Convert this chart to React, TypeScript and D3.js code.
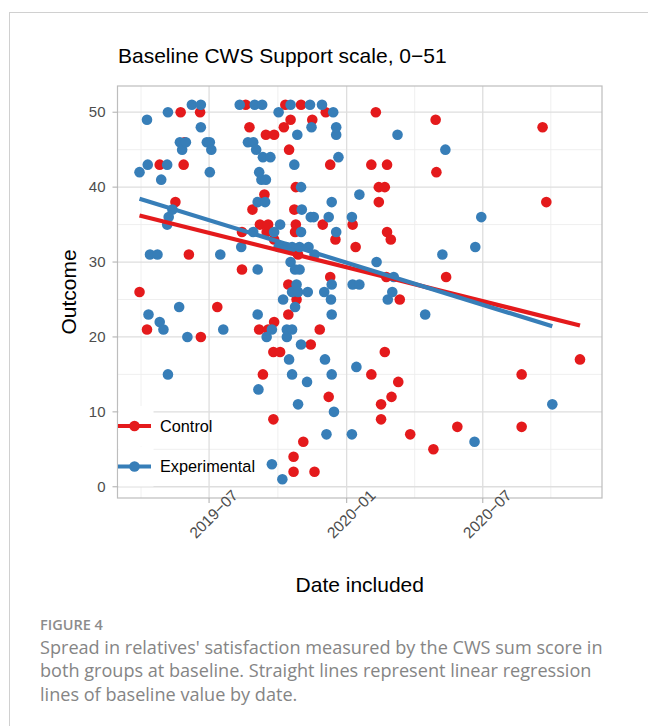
import React from "react";
import * as d3 from "d3";

const controlDates = [
  "2019-03-30","2019-04-09","2019-04-26","2019-05-17","2019-05-24","2019-05-28","2019-05-29","2019-06-04","2019-06-19","2019-06-20",
  "2019-07-12","2019-08-14","2019-08-14","2019-08-19","2019-08-24","2019-08-28","2019-09-06","2019-09-07","2019-09-11","2019-09-13",
  "2019-09-15","2019-09-16","2019-09-18","2019-09-18","2019-09-25","2019-09-25","2019-09-26","2019-09-26","2019-09-26","2019-10-04",
  "2019-10-09","2019-10-11","2019-10-15","2019-10-15","2019-10-16","2019-10-18","2019-10-22","2019-10-22","2019-10-23","2019-10-25",
  "2019-10-25","2019-10-24","2019-10-26","2019-10-28","2019-11-01","2019-11-04","2019-11-14","2019-11-16","2019-11-19","2019-11-26",
  "2019-11-30","2019-12-04","2019-12-08","2019-12-10","2019-12-10","2019-12-17","2020-01-09","2020-01-13","2020-02-03","2020-02-03",
  "2020-02-09","2020-02-13","2020-02-13","2020-02-16","2020-02-16","2020-02-21","2020-02-21","2020-02-23","2020-02-24","2020-02-24",
  "2020-02-29","2020-03-01","2020-03-10","2020-03-12","2020-03-26","2020-04-26","2020-04-29","2020-04-30","2020-05-13","2020-05-28",
  "2020-08-22","2020-08-22","2020-09-19","2020-09-24","2020-11-08",
];
const controlValues = [
  26,21,43,38,50,43,46,31,50,20,
  24,34,29,51,48,37,21,35,15,39,
  47,34,35,21,9,18,47,33,22,18,
  48,51,27,23,45,49,4,2,37,40,
  35,34,25,31,51,6,19,49,2,21,
  35,50,12,43,28,33,35,32,43,15,
  50,40,38,11,9,40,18,28,43,34,
  33,12,14,25,7,5,49,42,28,8,
  15,8,48,38,17,
];

const experimentalDates = [
  "2019-03-30","2019-04-09","2019-04-10","2019-04-11","2019-04-13","2019-04-23","2019-04-26","2019-04-28","2019-05-01","2019-05-06",
  "2019-05-06","2019-05-07","2019-05-07","2019-05-08","2019-05-13","2019-05-22","2019-05-23","2019-05-26","2019-05-31","2019-06-02",
  "2019-06-08","2019-06-20","2019-06-20","2019-06-28","2019-07-02","2019-07-04","2019-07-02","2019-07-16","2019-07-20","2019-08-11",
  "2019-08-13","2019-08-22","2019-08-29","2019-08-29","2019-08-31","2019-09-02","2019-09-04","2019-09-04","2019-09-04","2019-09-05",
  "2019-09-06","2019-09-09","2019-09-10","2019-09-11","2019-09-14","2019-09-15","2019-09-16","2019-09-21","2019-09-23","2019-09-23",
  "2019-09-26","2019-10-02","2019-10-02","2019-10-04","2019-10-07","2019-10-08","2019-10-12","2019-10-13","2019-10-13","2019-10-16",
  "2019-10-18","2019-10-18","2019-10-20","2019-10-20","2019-10-20","2019-10-20","2019-10-23","2019-10-24","2019-10-24","2019-10-26",
  "2019-10-27","2019-10-28","2019-10-28","2019-10-30","2019-10-30","2019-11-01","2019-11-02","2019-11-01","2019-11-01","2019-11-09",
  "2019-11-10","2019-11-11","2019-11-13","2019-11-14","2019-11-15","2019-11-18","2019-11-19","2019-11-29","2019-12-02","2019-12-03",
  "2019-12-05","2019-12-08","2019-12-11","2019-12-12","2019-12-12","2019-12-12","2019-12-12","2019-12-14","2019-12-15","2019-12-18",
  "2019-12-18","2019-12-18","2019-12-21","2020-01-08","2020-01-08","2020-01-09","2020-01-14","2020-01-18","2020-01-18","2020-02-10",
  "2020-02-25","2020-03-02","2020-03-04","2020-03-09","2020-04-15","2020-05-08","2020-05-12","2020-06-20","2020-06-21","2020-06-29",
  "2020-10-02",
];
const experimentalValues = [
  42,49,43,23,31,31,22,41,21,35,
  43,50,15,36,37,24,46,45,46,20,
  51,51,48,46,46,45,42,31,21,51,
  32,46,46,34,51,45,38,29,23,13,
  42,41,51,44,38,41,20,44,3,21,
  34,50,32,35,1,25,32,21,20,17,
  30,51,26,32,21,15,43,29,24,27,
  47,26,11,32,29,40,37,34,19,14,
  26,32,51,36,48,36,31,51,26,17,
  7,36,25,38,15,27,23,50,10,47,
  48,34,44,36,7,27,16,39,27,30,
  25,26,28,47,23,31,45,6,32,36,
  11,
];

const groupNames = ["Control", "Experimental"];
const groupColors = ["#E41A1C", "#377EB8"];
const yTicks = [0, 10, 20, 30, 40, 50];
const yMinorTicks = [5, 15, 25, 35, 45];
const xTickDates = ["2019-07-01", "2020-01-01", "2020-07-01"];
const xTickLabels = ["2019\u221207", "2020\u221201", "2020\u221207"];
const xMinorDates = ["2019-04-01", "2019-10-01", "2020-04-01", "2020-09-30"];

const titleText = "Baseline CWS Support scale, 0\u221251";
const figureLabel = "FIGURE 4";
const captionLines = [
  "Spread in relatives' satisfaction measured by the CWS sum score in",
  "both groups at baseline. Straight lines represent linear regression",
  "lines of baseline value by date.",
];

const parse = d3.utcParse("%Y-%m-%d");

type Pt = { date: Date; value: number };

function makeGroup(dates: string[], values: number[]): Pt[] {
  return dates.map((d, i) => ({ date: parse(d) as Date, value: values[i] }));
}

function regression(pts: Pt[]) {
  const xs = pts.map((p) => +p.date);
  const ys = pts.map((p) => p.value);
  const mx = d3.mean(xs) as number;
  const my = d3.mean(ys) as number;
  let sxy = 0;
  let sxx = 0;
  xs.forEach((x, i) => {
    sxy += (x - mx) * (ys[i] - my);
    sxx += (x - mx) * (x - mx);
  });
  const slope = sxy / sxx;
  const ext = d3.extent(xs) as [number, number];
  return ext.map((x) => ({ date: new Date(x), value: my + slope * (x - mx) }));
}

export default function App() {
  const groups = [
    makeGroup(controlDates, controlValues),
    makeGroup(experimentalDates, experimentalValues),
  ];
  const all = groups.flat();

  const panel = { left: 117.5, right: 602, top: 86, bottom: 498 };

  const xExt = d3.extent(all, (d) => +d.date) as [number, number];
  const xPad = (xExt[1] - xExt[0]) * 0.05;
  const x = d3
    .scaleUtc()
    .domain([new Date(xExt[0] - xPad), new Date(xExt[1] + xPad)])
    .range([panel.left, panel.right]);

  const yExt = d3.extent(all, (d) => d.value) as [number, number];
  const yPad = (yExt[1] - yExt[0]) * 0.05;
  const y = d3
    .scaleLinear()
    .domain([yExt[0] - yPad, yExt[1] + yPad])
    .range([panel.bottom, panel.top]);

  const line = d3
    .line<Pt>()
    .x((d) => x(d.date))
    .y((d) => y(d.value));

  const font = "'Liberation Sans', Arial, sans-serif";
  const capFont = "'Open Sans', Lato, sans-serif";
  const r = 5.3;

  const legendKeyY = [426, 466.5];

  return (
    <svg
      width={648}
      height={726}
      style={{ position: "absolute", left: 0, top: 0, background: "#fff" }}
    >
      <rect x={9.5} y={12.5} width={700} height={760} fill="#fff" stroke="#D0D0D0" strokeWidth={1} />

      {/* title */}
      <text x={118} y={63} fontFamily={font} fontSize={21} fill="#000">
        {titleText}
      </text>

      {/* panel background */}
      <rect x={panel.left} y={panel.top} width={panel.right - panel.left} height={panel.bottom - panel.top} fill="#fff" />

      {/* minor grid */}
      {yMinorTicks.map((t) => (
        <line key={"ym" + t} x1={panel.left} x2={panel.right} y1={y(t)} y2={y(t)} stroke="#EDEDED" strokeWidth={0.9} />
      ))}
      {xMinorDates.map((t) => (
        <line key={"xm" + t} y1={panel.top} y2={panel.bottom} x1={x(parse(t) as Date)} x2={x(parse(t) as Date)} stroke="#EDEDED" strokeWidth={0.9} />
      ))}
      {/* major grid */}
      {yTicks.map((t) => (
        <line key={"yg" + t} x1={panel.left} x2={panel.right} y1={y(t)} y2={y(t)} stroke="#DEDEDE" strokeWidth={1.3} />
      ))}
      {xTickDates.map((t) => (
        <line key={"xg" + t} y1={panel.top} y2={panel.bottom} x1={x(parse(t) as Date)} x2={x(parse(t) as Date)} stroke="#DEDEDE" strokeWidth={1.3} />
      ))}

      {/* points */}
      {groups.map((g, gi) =>
        g.map((p, i) => (
          <circle key={gi + "-" + i} cx={x(p.date)} cy={y(p.value)} r={r} fill={groupColors[gi]} />
        ))
      )}

      {/* regression lines */}
      {groups.map((g, gi) => (
        <path key={"reg" + gi} d={line(regression(g)) as string} fill="none" stroke={groupColors[gi]} strokeWidth={4.2} />
      ))}

      {/* panel border */}
      <rect x={panel.left} y={panel.top} width={panel.right - panel.left} height={panel.bottom - panel.top} fill="none" stroke="#BDBDBD" strokeWidth={1.2} />

      {/* y axis */}
      {yTicks.map((t) => (
        <g key={"yt" + t}>
          <line x1={panel.left - 5} x2={panel.left} y1={y(t)} y2={y(t)} stroke="#B3B3B3" strokeWidth={1.1} />
          <text x={105.5} y={y(t)} dy="0.35em" textAnchor="end" fontFamily={font} fontSize={15} fill="#4D4D4D">
            {t}
          </text>
        </g>
      ))}

      {/* x axis */}
      {xTickDates.map((t, i) => {
        const px = x(parse(t) as Date);
        return (
          <g key={"xt" + t}>
            <line x1={px} x2={px} y1={panel.bottom} y2={panel.bottom + 5} stroke="#B3B3B3" strokeWidth={1.1} />
            <text
              transform={`translate(${px + 4.5},${514}) rotate(-45)`}
              textAnchor="middle"
              dy="0.35em"
              fontFamily={font}
              fontSize={15.5}
              fill="#4D4D4D"
            >
              {xTickLabels[i]}
            </text>
          </g>
        );
      })}

      {/* axis titles */}
      <text
        transform={`translate(76,${(panel.top + panel.bottom) / 2}) rotate(-90)`}
        textAnchor="middle"
        fontFamily={font}
        fontSize={21}
        fill="#000"
      >
        Outcome
      </text>
      <text x={(panel.left + panel.right) / 2} y={592} textAnchor="middle" fontFamily={font} fontSize={21} fill="#000">
        Date included
      </text>

      {/* legend */}
      {groupNames.map((name, gi) => (
        <g key={"lg" + gi}>
          <rect x={118.5} y={legendKeyY[gi] - 20} width={35} height={40} fill="#fff" />
          <line x1={118} x2={151} y1={legendKeyY[gi]} y2={legendKeyY[gi]} stroke={groupColors[gi]} strokeWidth={4.2} />
          <circle cx={134.5} cy={legendKeyY[gi]} r={r} fill={groupColors[gi]} />
          <text x={160} y={legendKeyY[gi]} dy="0.35em" fontFamily={font} fontSize={16.3} fill="#000">
            {name}
          </text>
        </g>
      ))}

      {/* caption */}
      <text x={40} y={629.5} fontFamily={capFont} fontSize={14.5} fontWeight={600} fill="#8C8C8C">
        {figureLabel}
      </text>
      {captionLines.map((l, i) => (
        <text key={"cap" + i} x={40} y={654 + i * 23.3} fontFamily={capFont} fontSize={18.1} fill="#858585">
          {l}
        </text>
      ))}
    </svg>
  );
}
